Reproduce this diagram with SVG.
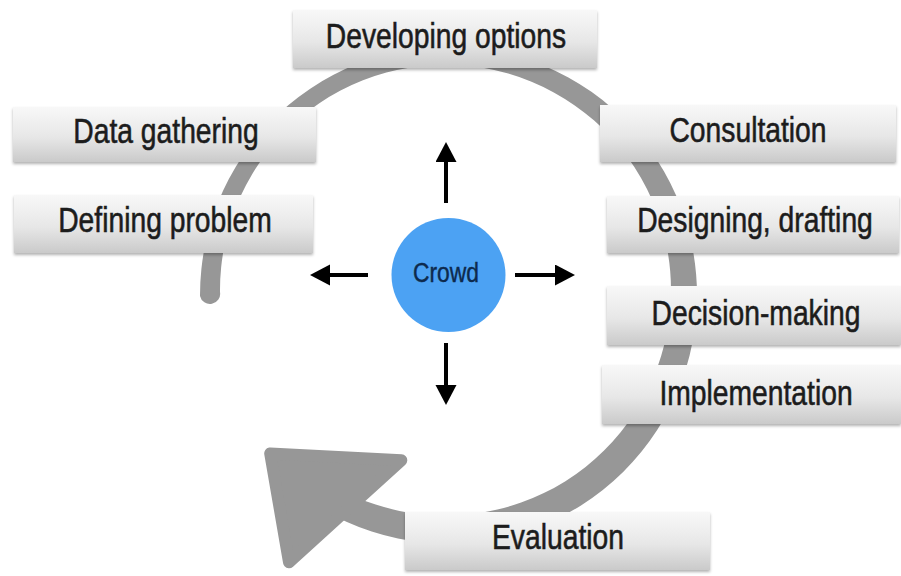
<svg xmlns="http://www.w3.org/2000/svg" width="901" height="576" viewBox="0 0 901 576">
<style>
.box{fill:url(#boxGrad);filter:url(#shadow)}
.lbl{font-family:"Liberation Sans",Arial,sans-serif;font-size:36px;fill:#1c1c1c;stroke:#1c1c1c;stroke-width:0.6;text-anchor:middle}
.crowd{font-family:"Liberation Sans",Arial,sans-serif;font-size:28px;fill:#0d2a4d;stroke:#0d2a4d;stroke-width:0.4;text-anchor:middle}
.cyc{fill:#979797}
.arr{stroke:#000;stroke-width:4;fill:none;marker-end:url(#head)}
</style>
<defs>
<linearGradient id="boxGrad" x1="0" y1="0" x2="0" y2="1">
<stop offset="0" stop-color="#f8f8f8"/>
<stop offset="0.55" stop-color="#e7e7e7"/>
<stop offset="1" stop-color="#cacaca"/>
</linearGradient>
<filter id="shadow" x="-5%" y="-10%" width="110%" height="130%">
<feDropShadow dx="0" dy="2" stdDeviation="1.5" flood-color="#000" flood-opacity="0.3"/>
</filter>
<marker id="head" markerUnits="userSpaceOnUse" markerWidth="22" markerHeight="22" refX="8" refY="10.5" orient="auto">
<path d="M0,0 L20,10.5 L0,21 z" fill="#000"/>
</marker>
</defs>

<g id="connectors">
<g id="cycle-arrow">
<path class="cyc" d="M200,296 A248.5,248.5 0 1 1 322.25,509.2 L330.75,484.3 A225.5,225.5 0 1 0 220,292 A10.2,10.2 0 0 1 200,296 z"/>
<path class="cyc" d="M270.2,453.4 L401.3,460.2 L289,562.3 z" stroke="#979797" stroke-width="12" stroke-linejoin="round"/>
</g>
<line class="arr" x1="446" y1="203" x2="446" y2="154"/>
<line class="arr" x1="446" y1="343" x2="446" y2="393"/>
<line class="arr" x1="368" y1="275" x2="322" y2="275"/>
<line class="arr" x1="515" y1="275" x2="563" y2="275"/>
</g>

<g id="crowd">
<circle cx="448.5" cy="275" r="57" fill="#4ca2f3"/>
<text class="crowd" transform="translate(446,282) scale(0.816,1)">Crowd</text>
</g>

<g id="developing-options">
<rect class="box" x="293" y="10" width="304" height="58"/>
<text class="lbl" transform="translate(446,48) scale(0.785,1)">Developing options</text>
</g>
<g id="data-gathering">
<rect class="box" x="13" y="107" width="303" height="55"/>
<text class="lbl" transform="translate(166,143) scale(0.785,1)">Data gathering</text>
</g>
<g id="defining-problem">
<rect class="box" x="14" y="195" width="299" height="58"/>
<text class="lbl" transform="translate(165,232) scale(0.785,1)">Defining problem</text>
</g>
<g id="consultation">
<rect class="box" x="600" y="105" width="296" height="57"/>
<text class="lbl" transform="translate(748,142) scale(0.785,1)">Consultation</text>
</g>
<g id="designing-drafting">
<rect class="box" x="607" y="196" width="292" height="57"/>
<text class="lbl" transform="translate(755,232) scale(0.785,1)">Designing, drafting</text>
</g>
<g id="decision-making">
<rect class="box" x="607" y="286" width="294" height="59"/>
<text class="lbl" transform="translate(756,325) scale(0.785,1)">Decision-making</text>
</g>
<g id="implementation">
<rect class="box" x="602" y="365" width="299" height="59"/>
<text class="lbl" transform="translate(756,405) scale(0.785,1)">Implementation</text>
</g>
<g id="evaluation">
<rect class="box" x="405" y="512" width="305" height="58"/>
<text class="lbl" transform="translate(558,549) scale(0.785,1)">Evaluation</text>
</g>
</svg>
